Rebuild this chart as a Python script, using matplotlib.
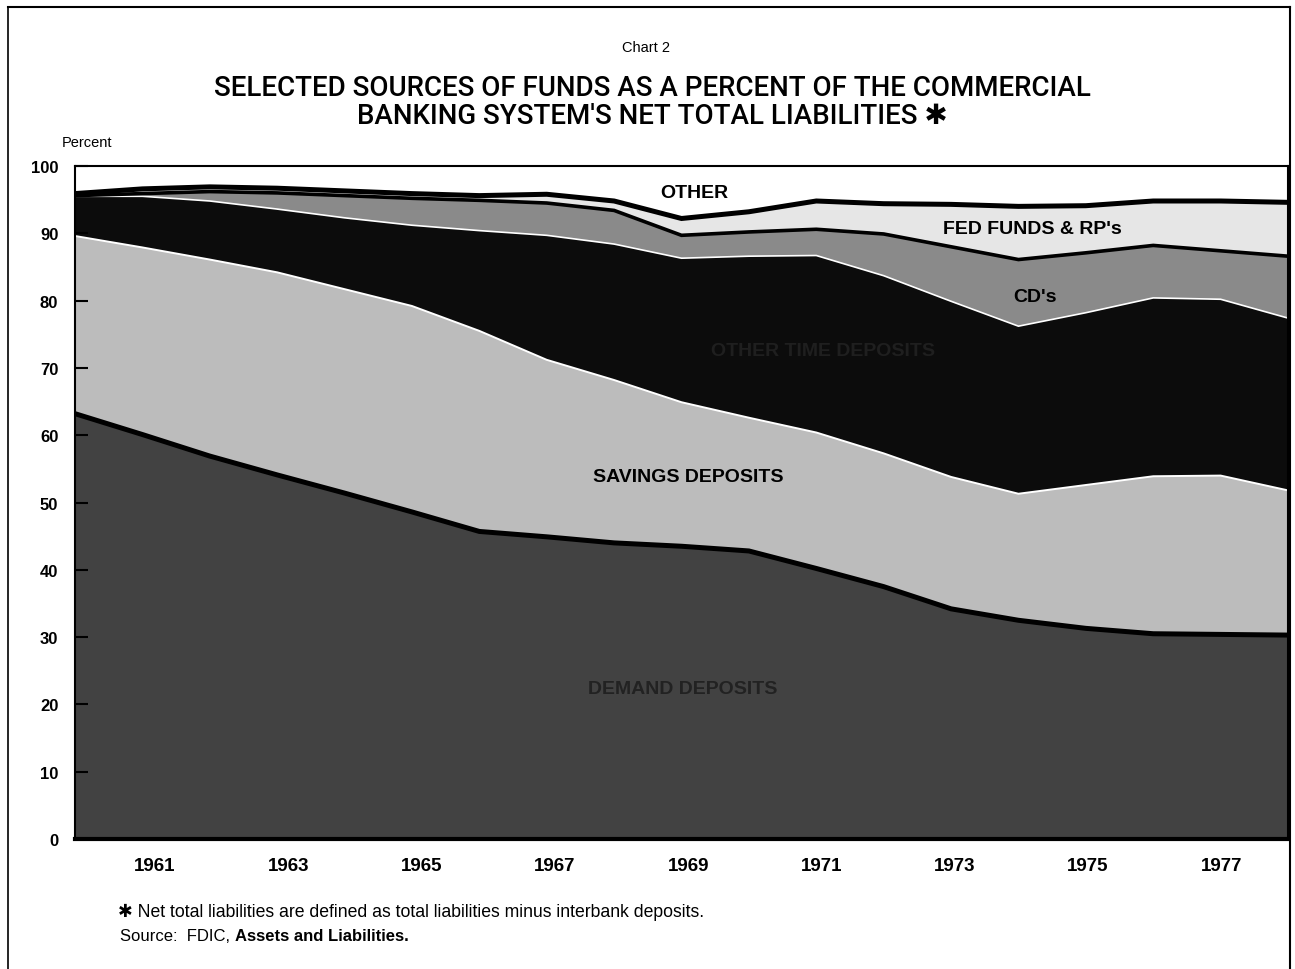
import numpy as np
import matplotlib
matplotlib.use("Agg")
import matplotlib.pyplot as plt
from matplotlib.lines import Line2D

plt.rcParams['font.family'] = ['Liberation Sans', 'DejaVu Sans']

# ---- data (percent of net total liabilities) ----
years = list(range(1960, 1979))
demand = [63.2, 60.1, 56.9, 54.1, 51.4, 48.6, 45.7, 44.9, 44.0, 43.5,
          42.8, 40.2, 37.5, 34.2, 32.5, 31.3, 30.5, 30.4, 30.3]
savings = [26.4, 27.8, 29.2, 30.1, 30.3, 30.6, 29.8, 26.3, 24.2, 21.4,
           19.8, 20.2, 19.8, 19.6, 18.8, 21.3, 23.4, 23.6, 21.5]
other_time = [5.9, 7.6, 8.7, 9.4, 10.6, 12.0, 14.9, 18.5, 20.2, 21.4,
              24.0, 26.3, 26.4, 26.1, 24.9, 25.6, 26.5, 26.2, 25.6]
cds = [0.1, 0.4, 1.4, 2.4, 3.3, 4.0, 4.5, 4.8, 5.0, 3.4,
       3.6, 3.9, 6.2, 8.1, 9.9, 8.9, 7.8, 7.2, 9.2]
fed_funds = [0.3, 0.7, 0.7, 0.7, 0.7, 0.7, 0.7, 1.3, 1.4, 2.5,
             3.0, 4.2, 4.5, 6.3, 7.9, 7.0, 6.6, 7.4, 8.0]
tick_years = [1961, 1963, 1965, 1967, 1969, 1971, 1973, 1975, 1977]
ytick_vals = list(range(0, 101, 10))

W, H = 1295, 970
fig = plt.figure(figsize=(W / 100, H / 100), dpi=100)
fig.patch.set_facecolor('white')

# figure frame
fig.add_artist(Line2D([8 / W, 8 / W], [0, 1 - 8 / H], color='black', lw=1.2, transform=fig.transFigure))
fig.add_artist(Line2D([8 / W, 1290 / W], [1 - 8 / H, 1 - 8 / H], color='black', lw=1.5, transform=fig.transFigure))
fig.add_artist(Line2D([1290 / W, 1290 / W], [0, 1 - 8 / H], color='black', lw=1.5, transform=fig.transFigure))

ax = fig.add_axes([75 / W, (H - 840) / H, (1288 - 75) / W, (840 - 167) / H])

x = np.array(years, dtype=float)
layers = np.vstack([demand, savings, other_time, cds, fed_funds])
colors = ['#424242', '#bcbcbc', '#0c0c0c', '#8a8a8a', '#e6e6e6']
ax.stackplot(x, layers, colors=colors, linewidth=0)
cum = np.cumsum(layers, axis=0)
ax.plot(x, cum[0], color='black', lw=3.6, solid_joinstyle='miter')
ax.plot(x, cum[1], color='white', lw=1.4)
ax.plot(x, cum[2], color='white', lw=1.2)
ax.plot(x, cum[3], color='black', lw=2.6, solid_joinstyle='miter')
ax.plot(x, cum[4], color='black', lw=3.6, solid_joinstyle='miter')

ax.set_xlim(years[0], years[-1])
ax.set_ylim(0, 100)

# x tick labels: data points spread evenly across the frame; labels centred in year
span = (years[-1] - years[0])
tick_pos = [years[0] + (y - (years[0] - 0.2)) * span / (span + 0.2) for y in tick_years]
ax.set_xticks(tick_pos)
ax.set_xticklabels([str(y) for y in tick_years], fontsize=13.5, fontweight='bold')
ax.tick_params(axis='x', length=0, pad=13)
ax.set_yticks(ytick_vals)
ax.set_yticklabels([str(v) for v in ytick_vals], fontsize=12, fontweight='bold')
ax.tick_params(axis='y', direction='in', length=9, width=1.5, pad=12)

for s in ['left', 'top', 'right']:
    ax.spines[s].set_linewidth(1.5)
ax.spines['bottom'].set_linewidth(3)

# in-chart labels
def px(xp, yp):
    return (years[0] + (xp - 75) / (1288 - 75) * span, (840 - yp) / 6.73)

lab = dict(ha='center', va='center', fontweight='bold', fontsize=14)
ax.text(*px(694, 194), 'OTHER', color='black', **lab)
ax.text(*px(1032, 229), "FED FUNDS & RP's", color='black', **lab)
ax.text(*px(1035, 297), "CD's", color='black', **lab)
ax.text(*px(823, 352), 'OTHER TIME DEPOSITS', color='#1f1f1f', **lab)
ax.text(*px(688, 478), 'SAVINGS DEPOSITS', color='black', **lab)
ax.text(*px(683, 690), 'DEMAND DEPOSITS', color='#222222', **lab)

# titles
tfont = dict(ha='center', va='center', fontsize=20, family=['Roboto', 'DejaVu Sans'], fontweight='medium')
fig.text(646 / W, 1 - 48 / H, 'Chart 2', ha='center', va='center', fontsize=10.5)
fig.text(652 / W, 1 - 88 / H, 'SELECTED SOURCES OF FUNDS AS A PERCENT OF THE COMMERCIAL', **tfont)
fig.text(652 / W, 1 - 116 / H, "BANKING SYSTEM'S NET TOTAL LIABILITIES \u2731", **tfont)
fig.text(62 / W, 1 - 143 / H, 'Percent', ha='left', va='center', fontsize=10.5)

# footnotes
fig.text(118 / W, 1 - 912 / H, '\u2731 Net total liabilities are defined as total liabilities minus interbank deposits.',
         ha='left', va='center', fontsize=12.7)
t1 = fig.text(120 / W, 1 - 937 / H, 'Source:  FDIC, ', ha='left', va='center', fontsize=12)
fig.canvas.draw()
bb = t1.get_window_extent(fig.canvas.get_renderer())
fig.text(bb.x1 / W, 1 - 937 / H, 'Assets and Liabilities.', ha='left', va='center',
         fontsize=12, fontweight='bold')

fig.savefig('out.png', dpi=100, facecolor='white')
